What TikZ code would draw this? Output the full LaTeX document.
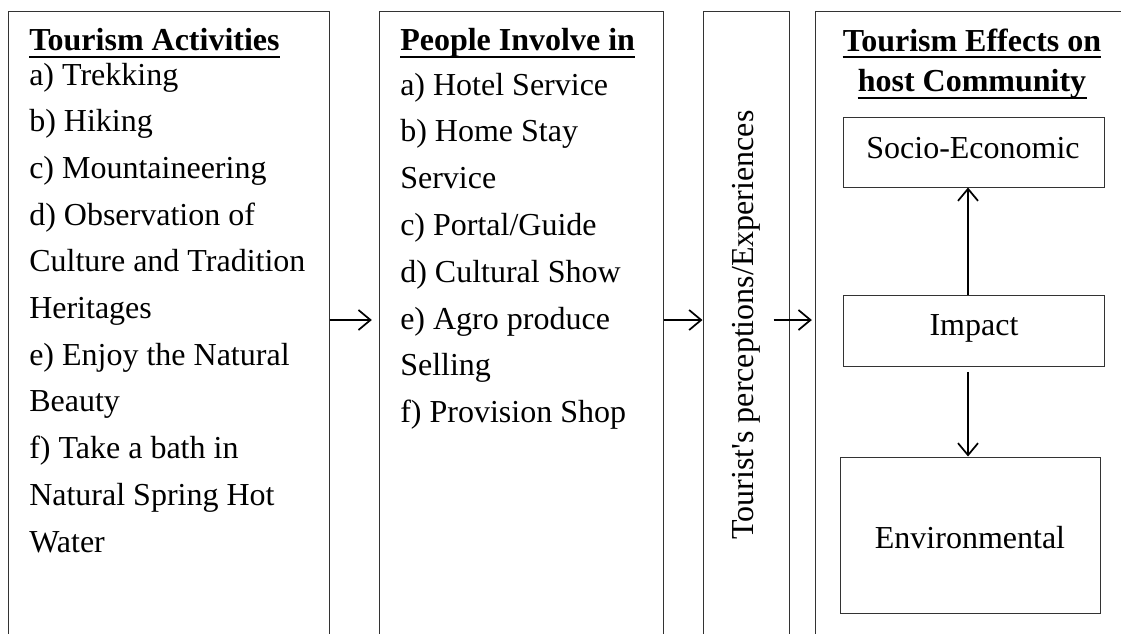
\documentclass[tikz,border=0pt]{standalone}
\usepackage{fontspec}
\setmainfont{Liberation Serif}
\usetikzlibrary{arrows.meta,fit,calc}
\begin{document}
\begin{tikzpicture}[x=0.75pt,y=-0.75pt,
  colbox/.style={draw=black!80, line width=0.75pt, inner sep=0pt},
  inbox/.style={draw=black!80, line width=0.75pt, inner sep=0pt},
  txt/.style={inner sep=0pt, anchor=base west, font=\fontsize{24}{28}\selectfont},
  ttl/.style={inner sep=0pt, font=\fontsize{24}{28}\selectfont\bfseries},
  ctxt/.style={inner sep=0pt, anchor=base, font=\fontsize{24}{28}\selectfont},
  ul/.style={line width=1.5pt},
  arr/.style={line width=1.3pt, -{Straight Barb[length=9pt,width=15pt,line width=1.3pt]}}]
\clip (0,0) rectangle (1121,633);
% columns
\node[colbox, fit={(8,11) (329,660)}] (col1) {};
\node[colbox, fit={(379,11) (663,660)}] (col2) {};
\node[colbox, fit={(703,11) (789,660)}] (col3) {};
\node[colbox, fit={(815,11) (1140,660)}] (col4) {};
% column 1
\node[ttl, anchor=base west] (t1) at (29,50) {Tourism Activities};
\draw[ul] ([yshift=-5.25pt]t1.base west) -- ([yshift=-5.25pt]t1.base east);
\foreach \t [count=\i] in {a) Trekking, b) Hiking, c) Mountaineering, d) Observation of, Culture and Tradition, Heritages, e) Enjoy the Natural, Beauty, f) Take a bath in, Natural Spring Hot, Water}
  \node[txt] (l1-\i) at (29,{85+(\i-1)*46.7}) {\t};
% column 2
\node[ttl, anchor=base west] (t2) at (400,50) {People Involve in};
\draw[ul] ([yshift=-5.25pt]t2.base west) -- ([yshift=-5.25pt]t2.base east);
\foreach \t [count=\i] in {a) Hotel Service, b) Home Stay, Service, c) Portal/Guide, d) Cultural Show, e) Agro produce, Selling, f) Provision Shop}
  \node[txt] (l2-\i) at (400,{95+(\i-1)*46.8}) {\t};
% column 3
\node[ctxt, anchor=center, rotate=90] (t3) at (746,325) {Tourist\textquotesingle s perceptions/Experiences};
% column 4
\node[ttl, anchor=base] (t4a) at (972,51) {Tourism Effects on};
\draw[ul] ([yshift=-4.5pt]t4a.base west) -- ([yshift=-4.5pt]t4a.base east);
\node[ttl, anchor=base] (t4b) at (972,91) {host Community};
\draw[ul] ([yshift=-5.25pt]t4b.base west) -- ([yshift=-5.25pt]t4b.base east);
\node[inbox, fit={(843,117) (1104,187)}] (socio) {};
\node[ctxt] (socioT) at (973,158) {Socio-Economic};
\node[inbox, fit={(843,295) (1104,366)}] (impact) {};
\node[ctxt] (impactT) at (974,335) {Impact};
\node[inbox, fit={(840,457) (1100,613)}] (env) {};
\node[ctxt] (envT) at (970,548) {Environmental};
% arrows
\coordinate (ay) at (0,320);
\coordinate (ax) at (968,0);
\draw[arr] (col1.east |- ay) -- ([xshift=-5pt]col2.west |- ay);
\draw[arr] (col2.east |- ay) -- (col3.west |- ay);
\draw[arr] ([xshift=-12pt]col3.east |- ay) -- ([xshift=-2pt]col4.west |- ay);
\draw[arr] (ax |- impact.north) -- (ax |- socio.south);
\draw[arr] ([yshift=-4pt]ax |- impact.south) -- (ax |- env.north);
\end{tikzpicture}
\end{document}
